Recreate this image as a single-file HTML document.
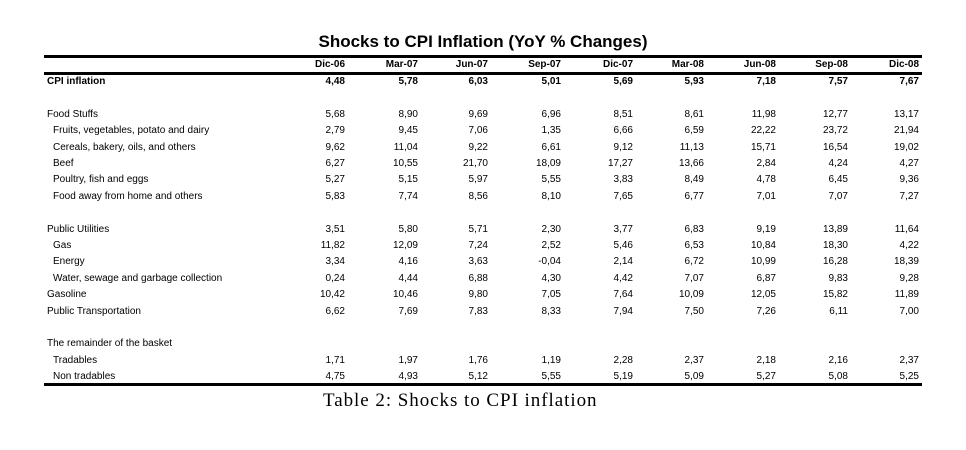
<!DOCTYPE html>
<html><head><meta charset="utf-8"><style>
body{margin:0;width:966px;height:450px;background:#fff;position:relative;font-family:"Liberation Sans",sans-serif;color:#000;overflow:hidden}
.t{position:absolute;font-size:10px;white-space:nowrap;line-height:12px}
.r{text-align:right;width:60px}
.b{font-weight:bold}
.rule{position:absolute;left:44px;width:878px;background:#000}
</style></head><body>
<div class="t b" style="left:0;width:966px;text-align:center;top:32px;font-size:17px;line-height:20px">Shocks to CPI Inflation (YoY % Changes)</div>
<div class="rule" style="top:55px;height:3px"></div>
<div class="rule" style="top:72px;height:3px"></div>
<div class="rule" style="top:383px;height:3px"></div>
<div class="t" style="left:323px;top:390px;font-family:'Liberation Serif',serif;font-size:19px;line-height:22px;letter-spacing:0.95px">Table 2: Shocks to CPI inflation</div>
<div id="c"></div>
<script>
var cols=[345,418,488,561,633,704,776,848,919];
var hdr=["Dic-06","Mar-07","Jun-07","Sep-07","Dic-07","Mar-08","Jun-08","Sep-08","Dic-08"];
var rows=[
[0,"CPI inflation",1,"4,48 5,78 6,03 5,01 5,69 5,93 7,18 7,57 7,67"],
[2,"Food Stuffs",0,"5,68 8,90 9,69 6,96 8,51 8,61 11,98 12,77 13,17"],
[3,"Fruits, vegetables, potato and dairy",2,"2,79 9,45 7,06 1,35 6,66 6,59 22,22 23,72 21,94"],
[4,"Cereals, bakery, oils, and others",2,"9,62 11,04 9,22 6,61 9,12 11,13 15,71 16,54 19,02"],
[5,"Beef",2,"6,27 10,55 21,70 18,09 17,27 13,66 2,84 4,24 4,27"],
[6,"Poultry, fish and eggs",2,"5,27 5,15 5,97 5,55 3,83 8,49 4,78 6,45 9,36"],
[7,"Food away from home and others",2,"5,83 7,74 8,56 8,10 7,65 6,77 7,01 7,07 7,27"],
[9,"Public Utilities",0,"3,51 5,80 5,71 2,30 3,77 6,83 9,19 13,89 11,64"],
[10,"Gas",2,"11,82 12,09 7,24 2,52 5,46 6,53 10,84 18,30 4,22"],
[11,"Energy",2,"3,34 4,16 3,63 -0,04 2,14 6,72 10,99 16,28 18,39"],
[12,"Water, sewage and garbage collection",2,"0,24 4,44 6,88 4,30 4,42 7,07 6,87 9,83 9,28"],
[13,"Gasoline",0,"10,42 10,46 9,80 7,05 7,64 10,09 12,05 15,82 11,89"],
[14,"Public Transportation",0,"6,62 7,69 7,83 8,33 7,94 7,50 7,26 6,11 7,00"],
[16,"The remainder of the basket",0,""],
[17,"Tradables",2,"1,71 1,97 1,76 1,19 2,28 2,37 2,18 2,16 2,37"],
[18,"Non tradables",2,"4,75 4,93 5,12 5,55 5,19 5,09 5,27 5,08 5,25"]];
var h="";
hdr.forEach(function(s,i){h+='<div class="t r b" style="left:'+(cols[i]-60)+'px;top:59px">'+s+'</div>';});
rows.forEach(function(r){
 var y=76+r[0]*16.4;
 var b=r[2]==1?" b":"";
 h+='<div class="t'+b+'" style="left:'+(r[2]==2?53:47)+'px;top:'+y+'px">'+r[1]+'</div>';
 if(r[3]) r[3].split(" ").forEach(function(v,i){h+='<div class="t r'+b+'" style="left:'+(cols[i]-60)+'px;top:'+y+'px">'+v+'</div>';});
});
document.getElementById("c").innerHTML=h;
</script>
</body></html>
